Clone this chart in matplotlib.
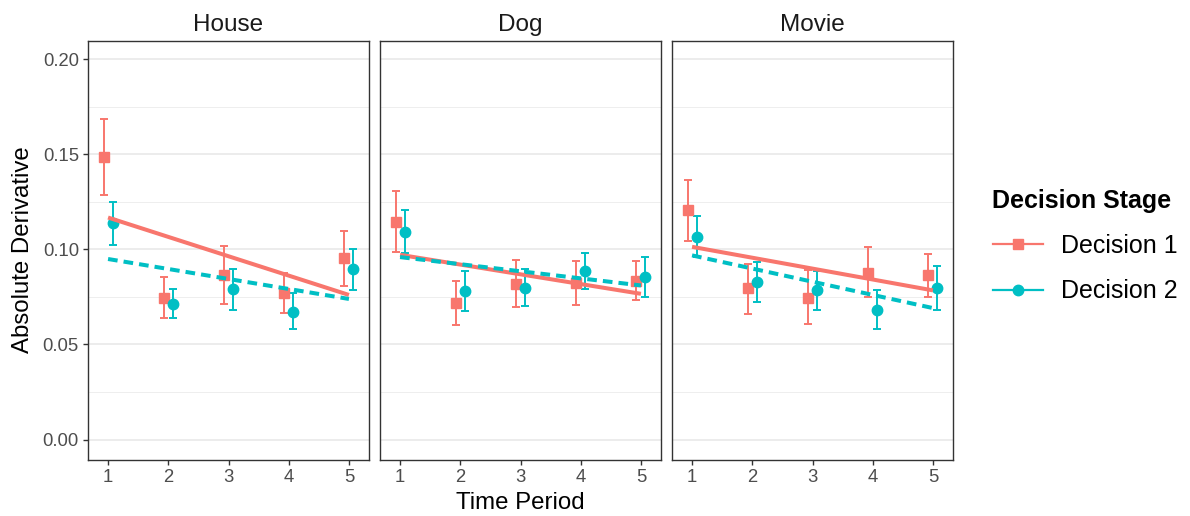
import numpy as np
import matplotlib
matplotlib.use('Agg')
import matplotlib.pyplot as plt
from matplotlib.lines import Line2D

plt.rcParams['font.family'] = ['Liberation Sans', 'DejaVu Sans']

# data
panels = ['House', 'Dog', 'Movie']
periods = [1, 2, 3, 4, 5]
stages = ['Decision 1', 'Decision 2']

d1_mean = [[0.1484, 0.0744, 0.0864, 0.0770, 0.0954],
           [0.1146, 0.0717, 0.0819, 0.0821, 0.0833],
           [0.1204, 0.0794, 0.0745, 0.0877, 0.0863]]
d1_lo = [[0.1283, 0.0637, 0.0714, 0.0667, 0.0808],
         [0.0985, 0.0604, 0.0696, 0.0709, 0.0731],
         [0.1041, 0.0661, 0.0605, 0.0751, 0.0749]]
d1_hi = [[0.1685, 0.0856, 0.1015, 0.0875, 0.1097],
         [0.1307, 0.0831, 0.0945, 0.0938, 0.0936],
         [0.1365, 0.0924, 0.0889, 0.1010, 0.0975]]

d2_mean = [[0.1139, 0.0712, 0.0791, 0.0672, 0.0896],
           [0.1092, 0.0780, 0.0798, 0.0886, 0.0856],
           [0.1067, 0.0829, 0.0786, 0.0682, 0.0794]]
d2_lo = [[0.1025, 0.0637, 0.0682, 0.0579, 0.0786],
         [0.0980, 0.0674, 0.0700, 0.0791, 0.0749],
         [0.0961, 0.0724, 0.0682, 0.0579, 0.0679]]
d2_hi = [[0.1251, 0.0791, 0.0899, 0.0770, 0.1004],
         [0.1206, 0.0887, 0.0896, 0.0980, 0.0962],
         [0.1176, 0.0934, 0.0884, 0.0787, 0.0910]]

# linear fit endpoints at period 1 and period 5
fit_d1 = [[0.1167, 0.0760], [0.0971, 0.0766], [0.1013, 0.0784]]
fit_d2 = [[0.0949, 0.0739], [0.0959, 0.0810], [0.0968, 0.0691]]

red = '#F8766D'
teal = '#00BFC4'
dodge = 0.075

fig = plt.figure(figsize=(11.9, 5.16), dpi=100)
fig.patch.set_facecolor('white')

W, H = 1190, 516
lefts = [88, 380, 672]
pw = 281
top, bottom = 41, 459.5

x = np.array(periods, dtype=float)
for i, name in enumerate(panels):
  ax = fig.add_axes([lefts[i] / W, 1 - bottom / H, pw / W, (bottom - top) / H])
  ax.set_xlim(0.667, 5.333)
  ax.set_ylim(-0.0105, 0.2095)

  # grid (horizontal only, like theme_bw with vertical grid removed)
  for v in np.arange(0.025, 0.21, 0.05):
    ax.axhline(v, color='#EBEBEB', lw=0.6, zorder=0)
  for v in np.arange(0.0, 0.201, 0.05):
    ax.axhline(v, color='#EBEBEB', lw=1.3, zorder=0)

  series = [(d1_mean, d1_lo, d1_hi, fit_d1, red, 's', '-', -dodge),
            (d2_mean, d2_lo, d2_hi, fit_d2, teal, 'o', (0, (2.4, 1.5)), dodge)]
  for mean, lo, hi, fit, col, mk, ls, off in series:
    m = np.array(mean[i])
    err = [m - np.array(lo[i]), np.array(hi[i]) - m]
    ax.errorbar(x + off, m, yerr=err, fmt=mk, color=col, ms=7.5,
                elinewidth=1.4, capsize=3.2, capthick=1.4, zorder=3)
  for mean, lo, hi, fit, col, mk, ls, off in series:
    ax.plot([periods[0], periods[-1]], fit[i], color=col, lw=2.9,
            linestyle=ls, zorder=4, solid_capstyle='butt', dash_capstyle='butt')

  ax.set_xticks(periods)
  ax.set_yticks([0.0, 0.05, 0.10, 0.15, 0.20])
  ax.tick_params(axis='both', colors='#333333', length=3.5, width=1.0,
                 labelsize=13.3, labelcolor='#4D4D4D', pad=3)
  if i == 0:
    ax.set_yticklabels(['0.00', '0.05', '0.10', '0.15', '0.20'])
  else:
    ax.tick_params(axis='y', left=False, labelleft=False)
  for s in ax.spines.values():
    s.set_color('#333333')
    s.set_linewidth(1.0)
  ax.set_title(name, fontsize=17.5, color='#1A1A1A', pad=7)

fig.text(520.5 / W, 1 - 503 / H, 'Time Period', ha='center', va='center',
         fontsize=17.3, color='black')
fig.text(23 / W, 1 - 250 / H, 'Absolute Derivative', ha='center', va='center',
         rotation=90, fontsize=17.3, color='black')

handles = [Line2D([], [], color=red, marker='s', ms=7.5, lw=1.6),
           Line2D([], [], color=teal, marker='o', ms=7.5, lw=1.6)]
leg = fig.legend(handles, stages, loc='center left',
                 bbox_to_anchor=(980 / W, 1 - 246 / H), frameon=False,
                 fontsize=18, title='Decision Stage', handlelength=2.0,
                 handletextpad=0.75, labelspacing=0.85, borderpad=0,
                 alignment='left',
                 title_fontproperties={'weight': 'bold', 'size': 18})
# nudge keys/labels slightly right of the title, as in ggplot
for h in leg.get_lines():
  pass

fig.savefig('out.png', dpi=100, facecolor='white')
